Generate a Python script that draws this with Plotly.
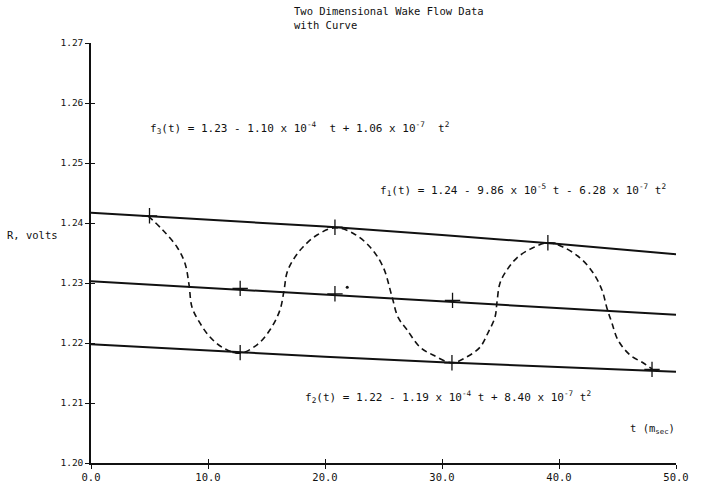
import plotly.graph_objects as go

# ---- data ----
line_t = [0, 10, 20, 30, 40, 50]
f1_vals = [1.2417, 1.2406, 1.2394, 1.2380, 1.2365, 1.2348]
f3_vals = [1.2303, 1.2292, 1.2281, 1.2270, 1.2258, 1.2247]
f2_vals = [1.2198, 1.2187, 1.2177, 1.2168, 1.2160, 1.2152]

curve_t = [4.87, 6.15, 7.35, 8.03, 8.38, 8.63, 9.32, 10.17, 11.28, 12.74,
           14.19, 15.30, 16.15, 16.50, 16.75, 17.26, 18.12, 19.32, 20.85,
           22.39, 23.85, 24.96, 25.73, 26.24, 27.01, 28.12, 29.23, 30.85,
           32.14, 33.25, 33.93, 34.53, 34.70, 34.96, 35.56, 36.41, 37.69, 39.06,
           40.34, 41.79, 42.91, 43.68, 44.10, 44.53, 45.04, 46.07, 47.18, 47.95]
curve_r = [1.2412, 1.2388, 1.2360, 1.2333, 1.2297, 1.2260, 1.2233, 1.2210, 1.2192, 1.2183,
           1.2197, 1.2222, 1.2255, 1.2288, 1.2317, 1.2338, 1.2360, 1.2380, 1.2392,
           1.2383, 1.2360, 1.2327, 1.2277, 1.2243, 1.2222, 1.2193, 1.2180, 1.2167,
           1.2177, 1.2193, 1.2217, 1.2243, 1.2268, 1.2300, 1.2322, 1.2342, 1.2358, 1.2367,
           1.2360, 1.2342, 1.2317, 1.2288, 1.2258, 1.2233, 1.2205, 1.2180, 1.2167, 1.2157]

pts_t = [5.0, 20.85, 39.05, 12.75, 30.85, 47.95, 12.75, 20.85, 30.9]
pts_r = [1.2412, 1.2393, 1.2367, 1.2184, 1.2167, 1.2156, 1.2291, 1.2282, 1.2271]

stray_t = [21.9]
stray_r = [1.2293]

x_ticks = [0, 10, 20, 30, 40, 50]
x_ticklabels = ["0.0", "10.0", "20.0", "30.0", "40.0", "50.0"]
y_ticks = [1.20, 1.21, 1.22, 1.23, 1.24, 1.25, 1.26, 1.27]
y_ticklabels = ["1.20", "1.21", "1.22", "1.23", "1.24", "1.25", "1.26", "1.27"]

title_text = "Two Dimensional Wake Flow Data<br>with Curve"
eq_f3 = "f<sub>3</sub>(t) = 1.23 - 1.10 x 10<sup>-4</sup>  t + 1.06 x 10<sup>-7</sup>  t<sup>2</sup>"
eq_f1 = "f<sub>1</sub>(t) = 1.24 - 9.86 x 10<sup>-5</sup> t - 6.28 x 10<sup>-7</sup> t<sup>2</sup>"
eq_f2 = "f<sub>2</sub>(t) = 1.22 - 1.19 x 10<sup>-4</sup> t + 8.40 x 10<sup>-7</sup> t<sup>2</sup>"

FONT = "DejaVu Sans Mono"
INK = "#111111"

fig = go.Figure()
for vals in (f1_vals, f3_vals, f2_vals):
    fig.add_trace(go.Scatter(x=line_t, y=vals, mode="lines",
                             line=dict(color=INK, width=2), showlegend=False, hoverinfo="skip"))
fig.add_trace(go.Scatter(x=curve_t, y=curve_r, mode="lines", line_shape="spline",
                         line=dict(color=INK, width=1.6, dash="6px,4px"),
                         showlegend=False, hoverinfo="skip"))
fig.add_trace(go.Scatter(x=pts_t, y=pts_r, mode="markers",
                         marker=dict(symbol="cross-thin", size=11, line=dict(color=INK, width=1.3)),
                         showlegend=False, hoverinfo="skip"))
fig.add_trace(go.Scatter(x=stray_t, y=stray_r, mode="markers",
                         marker=dict(symbol="circle", size=3, color=INK),
                         showlegend=False, hoverinfo="skip"))
# invisible trace on overlay axes for inward tick halves
fig.add_trace(go.Scatter(x=[0], y=[1.2], xaxis="x2", yaxis="y2", mode="markers",
                         marker=dict(opacity=0), showlegend=False, hoverinfo="skip"))

axis_common = dict(showgrid=False, zeroline=False, showline=True, linecolor=INK, linewidth=1.5,
                   tickcolor=INK, tickwidth=1.2, ticklen=4)
fig.update_layout(
    width=708, height=494,
    margin=dict(l=91, r=32, t=43, b=31),
    paper_bgcolor="white", plot_bgcolor="white",
    font=dict(family=FONT, color=INK, size=10),
    xaxis=dict(range=[0, 50], tickmode="array", tickvals=x_ticks, ticktext=x_ticklabels,
               ticks="outside", tickfont=dict(family=FONT, size=10.5, color=INK), **axis_common),
    yaxis=dict(range=[1.20, 1.27], tickmode="array", tickvals=y_ticks, ticktext=y_ticklabels,
               ticks="outside", tickfont=dict(family=FONT, size=9.5, color=INK), **axis_common),
    xaxis2=dict(range=[0, 50], overlaying="x", tickmode="array", tickvals=x_ticks,
                ticks="inside", showticklabels=False, showgrid=False, zeroline=False,
                showline=False, tickcolor=INK, tickwidth=1.2, ticklen=4),
    yaxis2=dict(range=[1.20, 1.27], overlaying="y", tickmode="array", tickvals=y_ticks,
                ticks="inside", showticklabels=False, showgrid=False, zeroline=False,
                showline=False, tickcolor=INK, tickwidth=1.2, ticklen=4),
    showlegend=False,
)

ann = dict(xref="paper", yref="paper", showarrow=False, font=dict(family=FONT, size=10.5, color=INK))
eqfont = dict(family=FONT, size=11, color=INK)
fig.add_annotation(text=title_text, x=0.3436, y=1.095, xanchor="left", yanchor="top", align="left", **ann)
fig.add_annotation(text="R, volts", x=-0.147, y=0.543, xanchor="left", yanchor="middle", **ann)
fig.add_annotation(text="t (m<sub>sec</sub>)", x=0.918, y=0.08, xanchor="left", yanchor="middle", **ann)
for txt, px, py in ((eq_f3, 0.0974, 0.7976), (eq_f1, 0.4906, 0.65), (eq_f2, 0.3624, 0.157)):
    fig.add_annotation(text=txt, x=px, y=py, xanchor="left", yanchor="middle",
                       xref="paper", yref="paper", showarrow=False, font=eqfont)

fig.write_html("out.html")
